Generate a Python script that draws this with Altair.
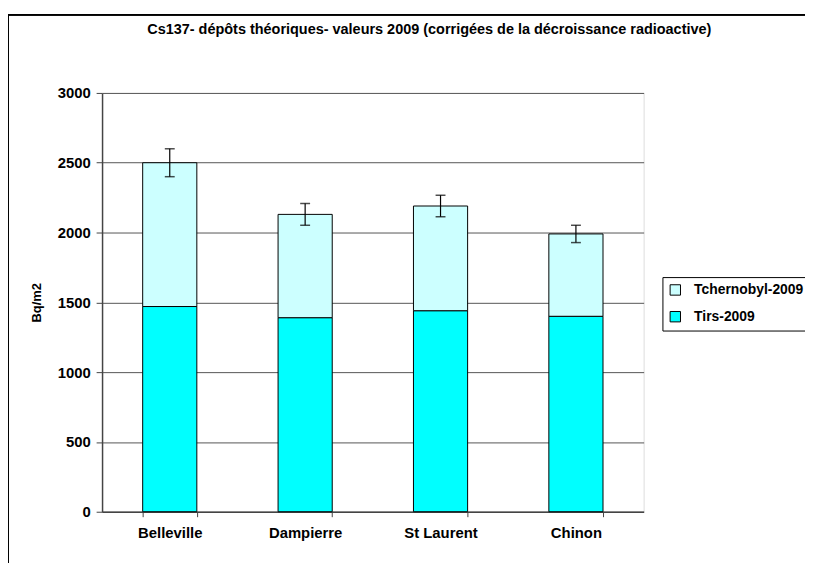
import altair as alt
import pandas as pd

sites = ["Belleville", "Dampierre", "St Laurent", "Chinon"]
tirs = [1470, 1390, 1440, 1400]
tchernobyl = [1030, 740, 750, 590]
err = [100, 78, 77, 62]
series = ["Tchernobyl-2009", "Tirs-2009"]
colors = ["#CCFFFF", "#00FFFF"]

rows = []
for s, a, b in zip(sites, tirs, tchernobyl):
    rows.append({"site": s, "serie": "Tirs-2009", "val": a, "ord": 0})
    rows.append({"site": s, "serie": "Tchernobyl-2009", "val": b, "ord": 1})
df = pd.DataFrame(rows)

tot = pd.DataFrame({
    "site": sites,
    "total": [a + b for a, b in zip(tirs, tchernobyl)],
    "err": err,
})
tot["lo"] = tot["total"] - tot["err"]
tot["hi"] = tot["total"] + tot["err"]

FONT = "Liberation Sans"
NARROW = "Liberation Sans Narrow, Liberation Sans"

xenc = alt.X("site:N", sort=sites, title=None,
             scale=alt.Scale(paddingInner=0.6, paddingOuter=0.3),
             axis=alt.Axis(labelAngle=0, labelFont=FONT, labelFontSize=15,
                           labelFontWeight="bold", labelColor="black",
                           labelPadding=9, tickBand="extent", tickSize=5,
                           tickColor="#444", domainColor="#444",
                           domainWidth=1.5, grid=False))

yscale = alt.Scale(domain=[0, 3000], nice=False)

bars = alt.Chart(df).mark_bar(stroke="black", strokeWidth=1).encode(
    x=xenc,
    y=alt.Y("sum(val):Q", scale=yscale, title="Bq/m2",
            axis=alt.Axis(values=[0, 500, 1000, 1500, 2000, 2500, 3000],
                          format="d",
                          labelFont=FONT, labelFontSize=15, labelFontWeight="bold",
                          labelColor="black", labelPadding=6,
                          titleFont=FONT, titleFontSize=13, titleFontWeight="bold",
                          titleColor="black", titlePadding=14,
                          tickSize=6, tickColor="#444", domainColor="#444",
                          domainWidth=1.5, grid=True, gridColor="#555",
                          gridWidth=1)),
    color=alt.Color("serie:N", scale=alt.Scale(domain=series, range=colors),
                    title=None,
                    legend=alt.Legend(orient="none", legendX=566, legendY=186,
                                      symbolType="square", symbolSize=110,
                                      symbolStrokeColor="black", symbolStrokeWidth=1,
                                      labelFont=FONT, labelFontSize=14,
                                      labelFontWeight="bold", labelColor="black",
                                      labelOffset=12,
                                      strokeColor="black", fillColor="white",
                                      padding=6, rowPadding=11, labelLimit=300)),
    order=alt.Order("ord:Q"),
)

rule = alt.Chart(tot).mark_rule(color="black", strokeWidth=1.2).encode(
    x=alt.X("site:N", sort=sites),
    y=alt.Y("lo:Q", scale=yscale),
    y2="hi:Q",
)
tick_hi = alt.Chart(tot).mark_tick(color="black", size=10, thickness=1.5,
                                   orient="horizontal").encode(
    x=alt.X("site:N", sort=sites), y=alt.Y("hi:Q", scale=yscale))
tick_lo = alt.Chart(tot).mark_tick(color="black", size=10, thickness=1.5,
                                   orient="horizontal").encode(
    x=alt.X("site:N", sort=sites), y=alt.Y("lo:Q", scale=yscale))

frame = alt.Chart(tot).mark_rect(fill=None, stroke="black", strokeWidth=1.5).encode(
    x=alt.value(-95), x2=alt.value(900), y=alt.value(-79), y2=alt.value(700))

chart = alt.layer(frame, bars, rule, tick_hi, tick_lo).properties(
    width=547, height=423,
    title=alt.TitleParams("Cs137- dépôts théoriques- valeurs 2009 (corrigées de la décroissance radioactive)",
                          font=NARROW, fontSize=14.6, fontWeight="bold", color="black",
                          anchor="middle", frame="group", baseline="alphabetic",
                          offset=-35, dx=57),
    autosize=alt.AutoSizeParams(type="none"),
    padding={"left": 95, "top": 83, "right": 163, "bottom": 49},
).configure_view(stroke=None).configure(background="white")

chart.save("out.html", embed_options={"renderer": "svg", "actions": False})
